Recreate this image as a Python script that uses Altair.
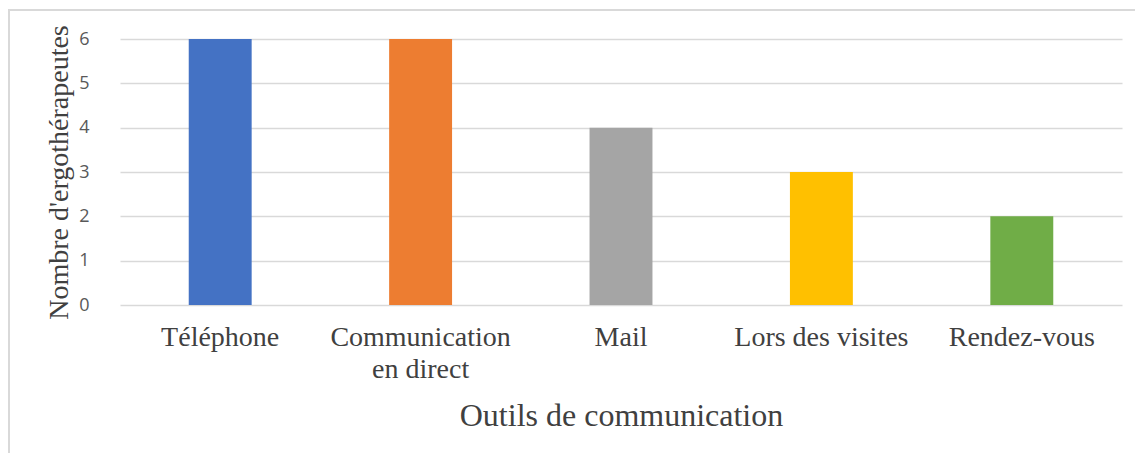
import altair as alt
import pandas as pd

categories = ["Téléphone", "Communication en direct", "Mail", "Lors des visites", "Rendez-vous"]
values = [6, 6, 4, 3, 2]
colors = ["#4472C4", "#ED7D31", "#A5A5A5", "#FFC000", "#70AD47"]

df = pd.DataFrame({"outil": categories, "n": values})

W, H = 1002, 266

bars = alt.Chart(df).mark_bar().encode(
    x=alt.X("outil:N", sort=categories,
            scale=alt.Scale(paddingInner=0.686, paddingOuter=0.343),
            axis=alt.Axis(title="Outils de communication", labelAngle=0,
                          labelFont="Liberation Serif", labelFontSize=28,
                          labelColor="#404040", labelPadding=18, labelLimit=400,
                          labelLineHeight=32,
                          labelExpr="datum.label == 'Communication en direct' ? ['Communication', 'en direct'] : datum.label",
                          titleFont="Liberation Serif", titleFontSize=32,
                          titleFontWeight="normal", titleColor="#404040",
                          titlePadding=17, domain=False, ticks=False, grid=False)),
    y=alt.Y("n:Q", scale=alt.Scale(domain=[0, 6]),
            axis=alt.Axis(title="Nombre d'ergothérapeutes", values=[0, 1, 2, 3, 4, 5, 6],
                          labelFont="Open Sans", labelFontSize=18, labelColor="#595959",
                          labelPadding=31, grid=True, gridColor="#d9d9d9", gridWidth=1.5,
                          domain=False, ticks=False,
                          titleFont="Liberation Serif", titleFontSize=28,
                          titleFontWeight="normal", titleColor="#404040",
                          titlePadding=5)),
    color=alt.Color("outil:N", sort=categories,
                    scale=alt.Scale(domain=categories, range=colors), legend=None),
)

frame = alt.Chart(df).mark_rect(fill=None, stroke="#d9d9d9", strokeWidth=1.5).encode(
    x=alt.value(-111), x2=alt.value(W + 60), y=alt.value(-29), y2=alt.value(H + 250)
)

chart = alt.layer(frame, bars).properties(
    width=W, height=H,
    autosize=alt.AutoSizeParams(type="none"),
    padding={"left": 112, "top": 31, "right": 13, "bottom": 148},
).configure(background="white").configure_view(stroke=None)

chart.save("out.html", embed_options={"renderer": "svg", "actions": False})
